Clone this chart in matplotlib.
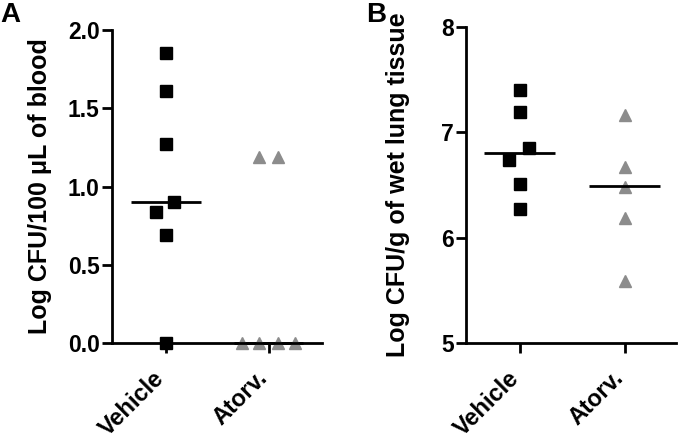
import matplotlib
matplotlib.use("Agg")
import matplotlib.pyplot as plt
import numpy as np

plt.rcParams['font.family'] = ['Liberation Sans', 'DejaVu Sans']
plt.rcParams['font.weight'] = 'bold'

categories = ["Vehicle", "Atorv."]

# Panel A: Log CFU/100 uL of blood
a_vehicle = [1.855, 1.61, 1.27, 0.90, 0.84, 0.69, 0.0]
a_vehicle_off = [0, 0, 0, 0.085, -0.09, 0, 0]
a_atorv = [1.19, 1.19, 0.0, 0.0, 0.0, 0.0]
a_atorv_off = [-0.09, 0.09, -0.26, -0.09, 0.09, 0.26]
a_medians = [0.90, 0.0]

# Panel B: Log CFU/g of wet lung tissue
b_vehicle = [7.40, 7.195, 6.85, 6.74, 6.51, 6.27]
b_vehicle_off = [0, 0, 0.09, -0.10, 0, 0]
b_atorv = [7.165, 6.67, 6.485, 6.19, 5.59]
b_atorv_off = [0, 0, 0, 0, 0]
b_medians = [6.80, 6.49]

gray = '#8c8c8c'

fig = plt.figure(figsize=(6.8, 4.41), dpi=100)
axA = fig.add_axes([0.165, 0.222, 0.3085, 0.710])
axB = fig.add_axes([0.686, 0.2215, 0.308, 0.7175])


def style(ax, ylim, yticks, yticklabels, ylabel, xlim, lx):
    ax.set_xlim(*xlim)
    ax.set_ylim(*ylim)
    for s in ['top', 'right']:
        ax.spines[s].set_visible(False)
    for s in ['left', 'bottom']:
        ax.spines[s].set_linewidth(2.0)
        ax.spines[s].set_color('black')
    ax.set_yticks(yticks)
    ax.set_yticklabels(yticklabels, fontsize=16.5, fontweight='bold')
    ax.set_xticks([0, 1])
    ax.set_xticklabels(categories, fontsize=17, fontweight='bold',
                       rotation=45, ha='right', va='baseline',
                       rotation_mode='anchor')
    ax.tick_params(axis='both', direction='out', length=7, width=2)
    ax.tick_params(axis='y', pad=2)
    ax.tick_params(axis='x', pad=19)
    ax.set_ylabel(ylabel, fontsize=18, fontweight='bold')
    ax.yaxis.set_label_coords(lx, 0.5)


def plot_panel(ax, veh, veh_off, ator, ator_off, medians):
    ax.plot(np.array(veh_off) + 0, veh, linestyle='none', marker='s',
            markersize=8.5, color='black', clip_on=False, zorder=3)
    ax.plot(np.array(ator_off) + 1, ator, linestyle='none', marker='^',
            markersize=8, color=gray, markeredgecolor=gray, clip_on=False, zorder=3)
    for i, m in enumerate(medians):
        ax.plot([i - 0.34, i + 0.34], [m, m], color='black', linewidth=2.0,
                solid_capstyle='butt', clip_on=False, zorder=4)


plot_panel(axA, a_vehicle, a_vehicle_off, a_atorv, a_atorv_off, a_medians)
style(axA, (0, 2.0), [0, 0.5, 1.0, 1.5, 2.0], ['0.0', '0.5', '1.0', '1.5', '2.0'],
      'Log CFU/100 \u03bcL of blood', (-0.52, 1.52), -0.286)

plot_panel(axB, b_vehicle, b_vehicle_off, b_atorv, b_atorv_off, b_medians)
style(axB, (5, 8), [5, 6, 7, 8], ['5', '6', '7', '8'],
      'Log CFU/g of wet lung tissue', (-0.51, 1.49), -0.27)

fig.text(0.0, 1 - 22 / 441, 'A', fontsize=20, fontweight='bold', va='baseline', ha='left')
fig.text(366 / 680, 1 - 22 / 441, 'B', fontsize=20, fontweight='bold', va='baseline', ha='left')

fig.savefig('out.png', dpi=100)
